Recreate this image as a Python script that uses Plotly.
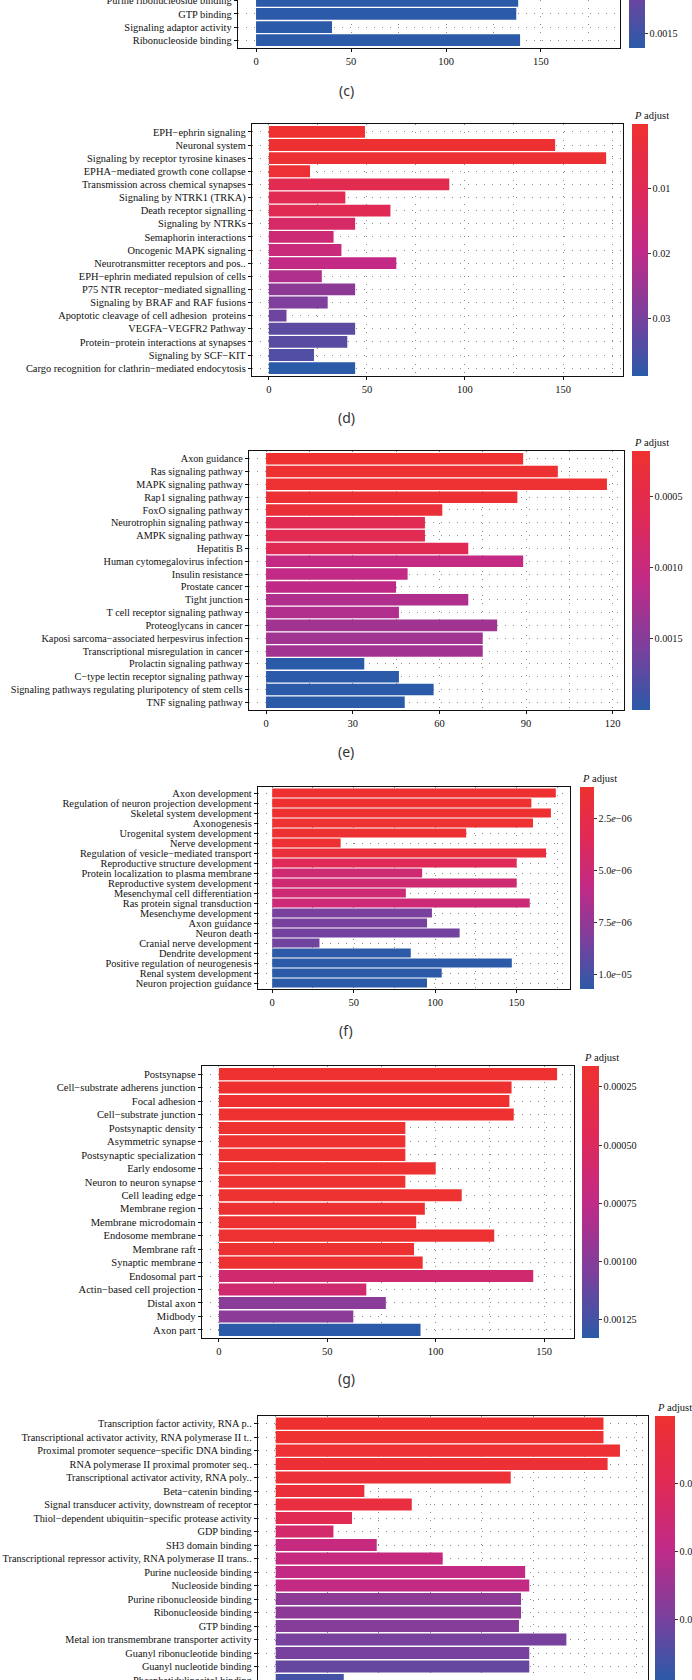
import plotly.graph_objects as go

W, H = 692, 1680
SERIF = "Liberation Serif, Times New Roman, serif"

# ---------------- data ----------------
c_terms = ["Purine ribonucleoside binding", "GTP binding", "Signaling adaptor activity", "Ribonucleoside binding"]
c_count = [138, 137, 40, 139]
c_padj = [0.00158, 0.00158, 0.00158, 0.00158]

d_terms = ["EPH−ephrin signaling", "Neuronal system", "Signaling by receptor tyrosine kinases",
           "EPHA−mediated growth cone collapse", "Transmission across chemical synapses",
           "Signaling by NTRK1 (TRKA)", "Death receptor signalling", "Signaling by NTRKs",
           "Semaphorin interactions", "Oncogenic MAPK signaling", "Neurotransmitter receptors and pos..",
           "EPH−ephrin mediated repulsion of cells", "P75 NTR receptor−mediated signalling",
           "Signaling by BRAF and RAF fusions", "Apoptotic cleavage of cell adhesion  proteins",
           "VEGFA−VEGFR2 Pathway", "Protein−protein interactions at synapses", "Signaling by SCF−KIT",
           "Cargo recognition for clathrin−mediated endocytosis"]
d_count = [49, 146, 172, 21, 92, 39, 62, 44, 33, 37, 65, 27, 44, 30, 9, 44, 40, 23, 44]
d_padj = [0.00001, 0.0005, 0.001, 0.0015, 0.0085, 0.009, 0.0095, 0.013, 0.016, 0.017,
          0.019, 0.022, 0.027, 0.029, 0.031, 0.033, 0.0335, 0.0345, 0.0389]

e_terms = ["Axon guidance", "Ras signaling pathway", "MAPK signaling pathway", "Rap1 signaling pathway",
           "FoxO signaling pathway", "Neurotrophin signaling pathway", "AMPK signaling pathway", "Hepatitis B",
           "Human cytomegalovirus infection", "Insulin resistance", "Prostate cancer", "Tight junction",
           "T cell receptor signaling pathway", "Proteoglycans in cancer",
           "Kaposi sarcoma−associated herpesvirus infection", "Transcriptional misregulation in cancer",
           "Prolactin signaling pathway", "C−type lectin receptor signaling pathway",
           "Signaling pathways regulating pluripotency of stem cells", "TNF signaling pathway"]
e_count = [89, 101, 118, 87, 61, 55, 55, 70, 89, 49, 45, 70, 46, 80, 75, 75, 34, 46, 58, 48]
e_padj = [0.00018, 0.0002, 0.0002, 0.00022, 0.00028, 0.0006, 0.0006, 0.00062, 0.00105, 0.00107,
          0.0011, 0.0012, 0.0012, 0.0013, 0.0013, 0.0013, 0.002, 0.002, 0.002, 0.002]

f_terms = ["Axon development", "Regulation of neuron projection development", "Skeletal system development",
           "Axonogenesis", "Urogenital system development", "Nerve development",
           "Regulation of vesicle−mediated transport", "Reproductive structure development",
           "Protein localization to plasma membrane", "Reproductive system development",
           "Mesenchymal cell differentiation", "Ras protein signal transduction", "Mesenchyme development",
           "Axon guidance", "Neuron death", "Cranial nerve development", "Dendrite development",
           "Positive regulation of neurogenesis", "Renal system development", "Neuron projection guidance"]
f_count = [174, 159, 171, 160, 119, 42, 168, 150, 92, 150, 82, 158, 98, 95, 115, 29, 85, 147, 104, 95]
f_padj = [0.98e-6, 1.0e-6, 1.0e-6, 1.05e-6, 1.1e-6, 1.2e-6, 1.8e-6, 3.5e-6, 4.8e-6, 4.8e-6,
          4.9e-6, 5.0e-6, 8.4e-6, 8.5e-6, 8.6e-6, 8.7e-6, 1.07e-5, 1.07e-5, 1.07e-5, 1.072e-5]

g_terms = ["Postsynapse", "Cell−substrate adherens junction", "Focal adhesion", "Cell−substrate junction",
           "Postsynaptic density", "Asymmetric synapse", "Postsynaptic specialization", "Early endosome",
           "Neuron to neuron synapse", "Cell leading edge", "Membrane region", "Membrane microdomain",
           "Endosome membrane", "Membrane raft", "Synaptic membrane", "Endosomal part",
           "Actin−based cell projection", "Distal axon", "Midbody", "Axon part"]
g_count = [156, 135, 134, 136, 86, 86, 86, 100, 86, 112, 95, 91, 127, 90, 94, 145, 68, 77, 62, 93]
g_padj = [0.00016, 0.00016, 0.00016, 0.00016, 0.00017, 0.00017, 0.00017, 0.00017, 0.00017, 0.00017,
          0.00018, 0.00018, 0.00018, 0.00018, 0.00018, 0.0006, 0.0006, 0.00098, 0.00098, 0.00133]

h_terms = ["Transcription factor activity, RNA p..", "Transcriptional activator activity, RNA polymerase II t..",
           "Proximal promoter sequence−specific DNA binding", "RNA polymerase II proximal promoter seq..",
           "Transcriptional activator activity, RNA poly..", "Beta−catenin binding",
           "Signal transducer activity, downstream of receptor",
           "Thiol−dependent ubiquitin−specific protease activity", "GDP binding", "SH3 domain binding",
           "Transcriptional repressor activity, RNA polymerase II trans..", "Purine nucleoside binding",
           "Nucleoside binding", "Purine ribonucleoside binding", "Ribonucleoside binding", "GTP binding",
           "Metal ion transmembrane transporter activity", "Guanyl ribonucleotide binding",
           "Guanyl nucleotide binding", "Phosphatidylinositol binding"]
h_count = [159, 159, 167, 161, 114, 43, 66, 37, 28, 49, 81, 121, 123, 119, 119, 118, 141, 123, 123, 33]
h_padj = [0.00002, 0.00005, 0.0001, 0.00015, 0.0002, 0.0003, 0.0004, 0.0009, 0.0014, 0.0018,
          0.0018, 0.0019, 0.0019, 0.0027, 0.0027, 0.0028, 0.003, 0.003, 0.0032, 0.0036]

# ---------------- layout of the panels (pixels) ----------------
panels = [
    dict(terms=c_terms, count=c_count, padj=c_padj, box=(238, 0, 620, 48), yr=(3.6, -0.064),
         xr=(-9.5, 191.6), xt=[0, 50, 100, 150], xm=[25, 75, 125, 175],
         cb=(629, -204, 252, 16), pr=(0.0002, 0.001582),
         pt=[0.0005, 0.001, 0.0015], ptx=["0.0005", "0.0010", "0.0015"], cap="(c)", cap_y=90,
         title=False, fs=10.4),
    dict(terms=d_terms, count=d_count, padj=d_padj, box=(252, 124, 623, 376), yr=(18.6, -0.6),
         xr=(-8.6, 180.6), xt=[0, 50, 100, 150], xm=[25, 75, 125, 175],
         cb=(632, 124, 252, 16), pr=(0.00001, 0.0389),
         pt=[0.01, 0.02, 0.03], ptx=["0.01", "0.02", "0.03"], cap="(d)", cap_y=417, title=True, fs=10.4),
    dict(terms=e_terms, count=e_count, padj=e_padj, box=(249, 451, 624, 710), yr=(19.6, -0.6),
         xr=(-5.9, 123.9), xt=[0, 30, 60, 90, 120], xm=[15, 45, 75, 105],
         cb=(632, 451, 259, 18), pr=(0.00018, 0.002),
         pt=[0.0005, 0.001, 0.0015], ptx=["0.0005", "0.0010", "0.0015"], cap="(e)", cap_y=752,
         title=True, fs=10.2),
    dict(terms=f_terms, count=f_count, padj=f_padj, box=(258, 787, 570, 989), yr=(19.6, -0.6),
         xr=(-8.7, 182.7), xt=[0, 50, 100, 150], xm=[25, 75, 125, 175],
         cb=(580, 787, 202, 14), pr=(0.98e-6, 1.072e-5),
         pt=[2.5e-6, 5e-6, 7.5e-6, 1e-5],
         ptx=["2.5<i>e</i>−06", "5.0<i>e</i>−06", "7.5<i>e</i>−06", "1.0<i>e</i>−05"],
         cap="(f)", cap_y=1030, title=True, fs=10.4),
    dict(terms=g_terms, count=g_count, padj=g_padj, box=(202, 1066, 574, 1338), yr=(19.6, -0.6),
         xr=(-7.8, 163.8), xt=[0, 50, 100, 150], xm=[25, 75, 125],
         cb=(582, 1066, 272, 17), pr=(0.00016, 0.00133),
         pt=[0.00025, 0.0005, 0.00075, 0.001, 0.00125],
         ptx=["0.00025", "0.00050", "0.00075", "0.00100", "0.00125"], cap="(g)", cap_y=1378,
         title=True, fs=10.6),
    dict(terms=h_terms, count=h_count, padj=h_padj, box=(258, 1416, 648, 1680), yr=(19.0, -0.56),
         xr=(-8.6, 180.6), xt=[0, 50, 100, 150], xm=[25, 75, 125, 175],
         cb=(655, 1416, 264, 20), pr=(0.00002, 0.00388),
         pt=[0.001, 0.002, 0.003], ptx=["0.001", "0.002", "0.003"], cap=None, cap_y=None,
         title=True, fs=10.3),
]

PAL = [[0.0, "#2b5aa8"], [0.25, "#7e3f9c"], [0.5, "#c12a87"], [0.75, "#e02a55"], [1.0, "#ee3130"]]
GRID = dict(showgrid=True, gridcolor="#8a8a8a", gridwidth=1, griddash="1px,7px")
FRAME = dict(showline=True, mirror=True, linecolor="#111", linewidth=1.4, zeroline=False,
             ticks="outside", ticklen=3, tickcolor="#111", tickwidth=1, automargin=False)

fig = go.Figure()
lay = {}
notes = []
for i, p in enumerate(panels, 1):
    s = "" if i == 1 else str(i)
    l, t, r, b = p["box"]
    fig.add_trace(go.Bar(
        orientation="h", x=p["count"], y=p["terms"], xaxis="x" + s, yaxis="y" + s,
        marker=dict(color=[-v for v in p["padj"]], coloraxis="coloraxis" + s, line=dict(width=0)),
        hoverinfo="skip"))
    lay["xaxis" + s] = dict(
        domain=[l / W, r / W], anchor="y" + s, range=list(p["xr"]), tickmode="array", tickvals=p["xt"],
        tickfont=dict(family=SERIF, size=10.5, color="#111"),
        minor=dict(tickmode="array", tickvals=p["xm"], ticks="", **GRID), **GRID, **FRAME)
    lay["yaxis" + s] = dict(
        domain=[1 - b / H, 1 - t / H], anchor="x" + s, type="category", categoryorder="array",
        categoryarray=p["terms"], range=list(p["yr"]), autorange=False,
        tickmode="array", tickvals=p["terms"],
        tickfont=dict(family=SERIF, size=p["fs"], color="#111"), **GRID, **FRAME)
    cx, ct, clen, cth = p["cb"]
    lay["coloraxis" + s] = dict(
        cmin=-p["pr"][1], cmax=-p["pr"][0], colorscale=PAL,
        colorbar=dict(x=cx / W, xanchor="left", xpad=0, y=1 - ct / H, yanchor="top", ypad=0,
                      len=clen, lenmode="pixels", thickness=cth, thicknessmode="pixels",
                      outlinewidth=0, tickmode="array", tickvals=[-v for v in p["pt"]], ticktext=p["ptx"],
                      ticks="outside", ticklen=3, tickcolor="#333",
                      tickfont=dict(family=SERIF, size=10.2, color="#111")))
    if p["title"]:
        notes.append(dict(x=cx / W, y=1 - (ct - 8.5) / H, xref="paper", yref="paper", xanchor="left",
                          yanchor="middle", showarrow=False, text="<i>P</i> adjust",
                          font=dict(family=SERIF, size=10.5, color="#111")))
    if p["cap"]:
        notes.append(dict(x=346 / W, y=1 - p["cap_y"] / H, xref="paper", yref="paper", xanchor="center",
                          yanchor="middle", showarrow=False, text=p["cap"],
                          font=dict(family="Noto Sans, Open Sans, sans-serif", size=14, color="#333")))

fig.update_layout(
    template="none", width=W, height=H, showlegend=False, bargap=0.1,
    margin=dict(l=0, r=0, t=0, b=0, pad=0, autoexpand=False),
    paper_bgcolor="white", plot_bgcolor="white", annotations=notes, **lay)

# the page body has a default 8px margin; remove it so the figure fills the window exactly
fig.write_html("out.html", config={"displayModeBar": False},
               post_script="document.body.style.margin='0';document.body.style.overflow='hidden';")
